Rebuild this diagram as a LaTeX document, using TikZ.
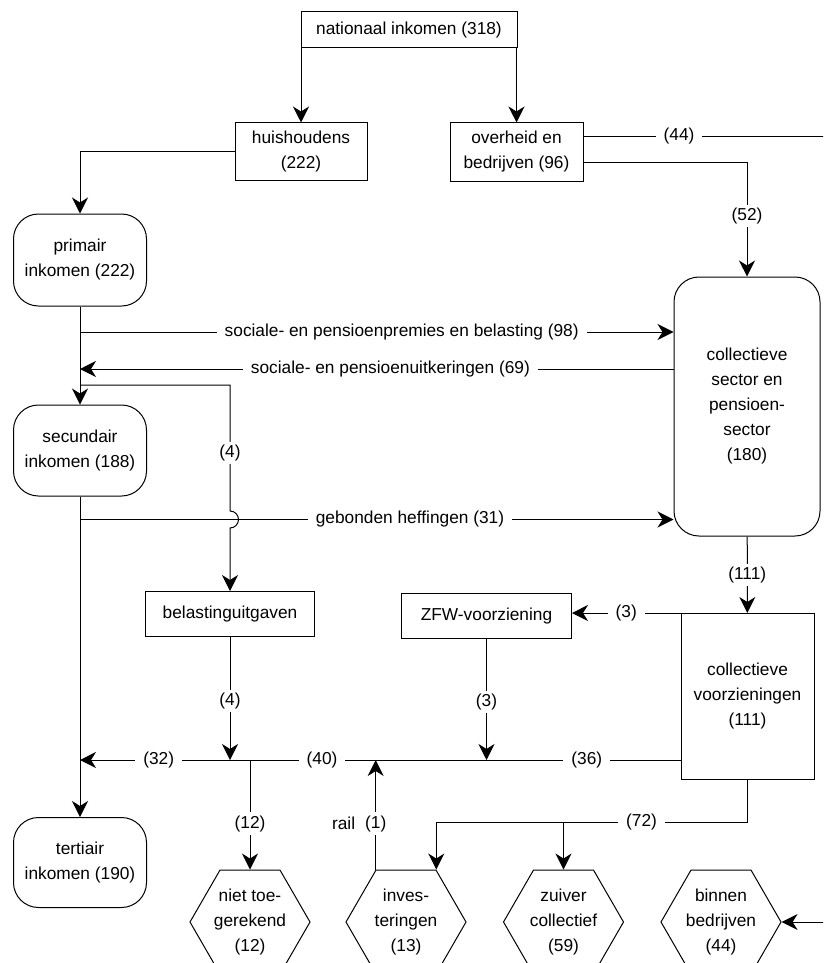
\documentclass[tikz,border=0pt]{standalone}
\usepackage{fontspec}
\setmainfont{Liberation Sans}
\usepackage{tikz}
\usetikzlibrary{arrows.meta,shapes.geometric}

\begin{document}
\begin{tikzpicture}[x=1pt,y=-1pt,>={Stealth[length=16pt,width=16pt,inset=5pt]},
  line width=1pt,font=\fontsize{17.3}{25}\selectfont,
  box/.style={draw,rectangle,align=center,inner sep=0pt},
  rbox/.style={draw,rectangle,rounded corners=25pt,align=center,inner sep=0pt,minimum width=133pt},
  hexa/.style={draw,regular polygon,regular polygon sides=6,minimum size=120pt,inner sep=0pt},
  lbl/.style={fill=white,inner xsep=8pt,inner ysep=3pt}]
  \useasboundingbox (0,0) rectangle (823,963);
  \clip (0,0) rectangle (823,963);

  % boxes
  \node[box,minimum width=216pt,minimum height=36pt] (nat) at (409,30) {nationaal inkomen (318)};
  \node[box,minimum width=132pt,minimum height=57pt] (hh) at (301,151.5) {huishoudens\\(222)};
  \node[box,minimum width=133pt,minimum height=58pt] (ov) at (516.5,152) {overheid en\\bedrijven (96)};
  \node[rbox,minimum height=92pt] (prim) at (80,260) {primair\\inkomen (222)};
  \node[rbox,minimum height=91pt] (sec) at (80,450.5) {secundair\\inkomen (188)};
  \node[rbox,minimum height=90pt] (ter) at (80,862.5) {tertiair\\inkomen (190)};
  \node[rbox,minimum width=146pt,minimum height=259pt] (cs) at (747,406.5) {collectieve\\sector en\\pensioen-\\sector\\(180)};
  \node[box,minimum width=169pt,minimum height=45pt] (bel) at (230,614) {belastinguitgaven};
  \node[box,minimum width=170pt,minimum height=45pt] (zfw) at (486.5,616) {ZFW-voorziening};
  \node[box,minimum width=133pt,minimum height=166pt] (cv) at (747.5,696.5) {collectieve\\voorzieningen\\(111)};
  \node[hexa,label={[align=center]center:niet toe-\\gerekend\\(12)}] (niet) at (250,922) {};
  \node[hexa,label={[align=center]center:inves-\\teringen\\(13)}] (inv) at (406,922) {};
  \node[hexa,label={[align=center]center:zuiver\\collectief\\(59)}] (zuiv) at (563.5,922) {};
  \node[hexa,label={[align=center]center:binnen\\bedrijven\\(44)}] (bin) at (721,922) {};

  % junctions
  \coordinate (rim) at (835,136);
  \coordinate (jzfw) at (zfw.south |- 0,760);
  \coordinate (jbel) at (bel.south |- 0,760);
  \coordinate (jniet) at (niet.north |- 0,760);
  \coordinate (j72) at (zuiv.north |- 0,822);

  % flows
  \draw[->] (hh.north |- nat.south) -- (hh.north);
  \draw[->] (ov.north |- nat.south) -- (ov.north);
  \draw[->] (hh.west) -| (prim.north);
  \draw[->] ([yshift=16pt]ov.east) -- (rim) |- (bin.east);
  \node[lbl] (f44) at (679,136) {(44)};
  \draw[->] ([yshift=-10pt]ov.east) -| (cs.north);
  \node[lbl] (f52) at (cs.north |- 0,216) {(52)};

  \draw[->] (prim) -- (sec);
  \draw[->] (sec) -- (ter);
  \draw[->] (prim.south |- 0,332) -- (cs.west |- 0,332)
    node[lbl,pos=0.542] {sociale- en pensioenpremies en belasting (98)};
  \draw[->] (cs.west |- 0,369) -- (prim.south |- 0,369)
    node[lbl,pos=0.477] {sociale- en pensioenuitkeringen (69)};
  \draw[->] (prim.south |- 0,385) -| (bel.north |- 0,511)
    arc[start angle=-90,end angle=90,radius=8.5] -- (bel.north);
  \node[lbl] (f4a) at (bel.north |- 0,453) {(4)};
  \draw[->] (sec.south |- 0,519.5) -- (cs.west |- 0,519.5)
    node[lbl,pos=0.556] {gebonden heffingen (31)};

  \draw[->] (cs) -- (cv) node[lbl,midway] {(111)};
  \draw[->] (cv.north west) -- (cv.north west -| zfw.east) node[lbl,midway] {(3)};
  \draw[->] (zfw) -- (jzfw) node[lbl,pos=0.52] {(3)};
  \draw[->] (bel) -- (jbel) node[lbl,pos=0.52] {(4)};
  \draw[->] (cv.west |- jzfw) -- (ter.north |- jzfw)
    node[lbl,pos=0.156] {(36)} node[lbl,pos=0.597] {(40)} node[lbl,pos=0.869] {(32)};
  \draw[->] (jniet) -- (niet.north) node[lbl,pos=0.58] {(12)};
  \draw[->] (inv.corner 2) -- (inv.corner 2 |- jzfw) node[lbl,pos=0.42] (f1) {(1)};
  \node[anchor=east,inner sep=1pt] at (f1.west) {rail};
  \draw[->] (cv.south) |- (j72) -| (inv.corner 1);
  \draw[->] (j72) -- (zuiv.north);
  \node[lbl] (f72) at (641.5,822) {(72)};
\end{tikzpicture}
\end{document}
